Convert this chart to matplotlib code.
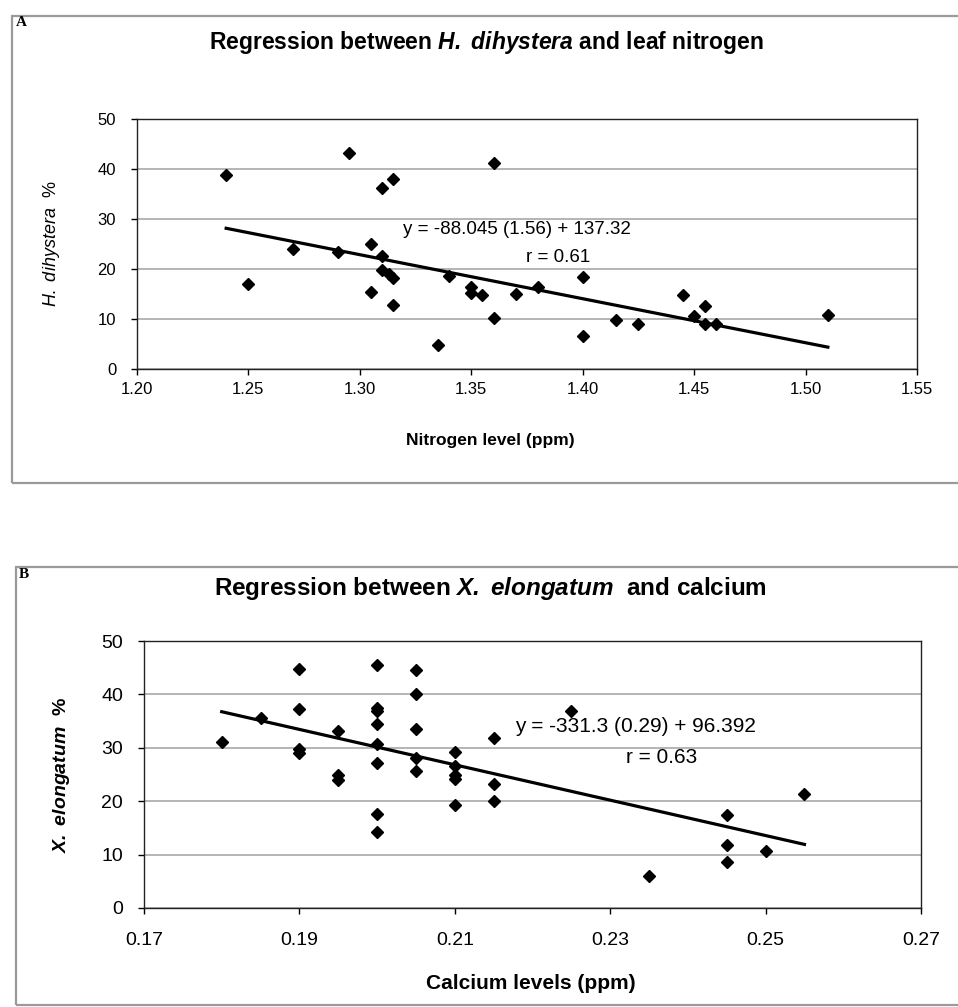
import matplotlib
matplotlib.use("Agg")
import matplotlib.pyplot as plt
from matplotlib.patches import Rectangle
import numpy as np

# ---- panel A : H. dihystera vs leaf nitrogen ----
nitrogen = [1.24, 1.25, 1.27, 1.29, 1.295, 1.305, 1.305, 1.31, 1.31, 1.31, 1.313,
            1.315, 1.315, 1.315, 1.335, 1.34, 1.35, 1.35, 1.355, 1.36, 1.36, 1.37,
            1.38, 1.40, 1.40, 1.415, 1.425, 1.445, 1.45, 1.455, 1.455, 1.46, 1.51]
dihystera = [38.8, 17.1, 24.0, 23.4, 43.2, 25.0, 15.5, 36.3, 22.7, 19.8, 19.0,
             38.0, 18.3, 12.8, 4.8, 18.7, 16.5, 15.2, 14.8, 41.2, 10.3, 15.1,
             16.5, 18.5, 6.6, 9.8, 9.1, 14.9, 10.6, 12.6, 9.1, 9.1, 10.9]
fit_a = (-88.045, 137.32)
xticks_a = [1.20, 1.25, 1.30, 1.35, 1.40, 1.45, 1.50, 1.55]

# ---- panel B : X. elongatum vs calcium ----
calcium = [0.18, 0.185, 0.19, 0.19, 0.19, 0.19, 0.195, 0.195, 0.195,
           0.20, 0.20, 0.20, 0.20, 0.20, 0.20, 0.20, 0.20,
           0.205, 0.205, 0.205, 0.205, 0.205, 0.21, 0.21, 0.21, 0.21, 0.21,
           0.215, 0.215, 0.215, 0.225, 0.235, 0.245, 0.245, 0.245, 0.25, 0.255]
elongatum = [31.0, 35.5, 44.7, 37.2, 29.8, 29.0, 33.1, 24.9, 23.9,
             45.5, 37.4, 36.8, 34.4, 30.8, 27.1, 17.6, 14.3,
             44.6, 40.1, 33.6, 28.0, 25.6, 29.2, 26.6, 25.0, 24.1, 19.2,
             31.9, 23.3, 20.0, 36.9, 6.0, 17.4, 11.8, 8.7, 10.7, 21.3]
fit_b = (-331.3, 96.392)
xticks_b = [0.17, 0.19, 0.21, 0.23, 0.25, 0.27]

yticks = [0, 10, 20, 30, 40, 50]

plt.rcParams["font.family"] = ["Liberation Sans", "DejaVu Sans"]
plt.rcParams["mathtext.fontset"] = "custom"
plt.rcParams["mathtext.rm"] = "Liberation Sans"
plt.rcParams["mathtext.it"] = "Liberation Sans:italic"
plt.rcParams["mathtext.bf"] = "Liberation Sans:bold"
plt.rcParams["mathtext.bfit"] = "Liberation Sans:italic:bold"

W, H = 958, 1007
fig = plt.figure(figsize=(W / 100, H / 100), dpi=100)


def fx(x):
    return x / W


def fy(y):
    return 1 - y / H


def panel(rect_px, xs, ys, fit, xticks, tick_fs, xpad):
    l, t, r, b = rect_px
    ax = fig.add_axes([fx(l), fy(b), fx(r - l), (b - t) / H])
    ax.set_xlim(xticks[0], xticks[-1])
    ax.set_ylim(0, 50)
    ax.set_xticks(xticks)
    ax.set_xticklabels([f"{v:.2f}" for v in xticks])
    ax.set_yticks(yticks)
    ax.yaxis.grid(True, color="#a0a0a0", lw=1.1)
    ax.set_axisbelow(True)
    for s in ax.spines.values():
        s.set_color("#222222")
        s.set_linewidth(1.0)
    ax.tick_params(direction="out", length=4.5, width=1, labelsize=tick_fs)
    ax.tick_params(axis="y", pad=10.5)
    ax.tick_params(axis="x", pad=xpad)
    ax.plot(xs, ys, ls="none", marker="D", ms=6.5, color="black", zorder=3)
    lx = np.array([min(xs), max(xs)])
    ax.plot(lx, fit[0] * lx + fit[1], color="black", lw=2.3, zorder=4)
    return ax


ax_a = panel((137, 119, 917, 369), nitrogen, dihystera, fit_a, xticks_a, 12, 5)
ax_b = panel((144, 641, 921, 908), calcium, elongatum, fit_b, xticks_b, 14, 13)

# panel frames (the chart borders of the original)
for top, bot, left in [(16, 483, 12), (567, 1005, 16)]:
    fig.add_artist(Rectangle((fx(left), fy(bot)), fx(W + 20 - left), (bot - top) / H,
                             transform=fig.transFigure, fill=False,
                             edgecolor="#9a9a9a", lw=1.6))

# panel letters
fig.text(fx(16), fy(22), "A", family=["Liberation Serif"], weight="bold", fontsize=11,
         ha="left", va="center")
fig.text(fx(19), fy(575), "B", family=["Liberation Serif"], weight="bold", fontsize=11,
         ha="left", va="center")

# titles
fig.text(fx(486), fy(42), r"Regression between $\mathbfit{H.\ dihystera}$ and leaf nitrogen",
         fontsize=16.5, weight="bold", ha="center", va="center")
fig.text(fx(490), fy(588), r"Regression between $\mathbfit{X.\ elongatum}$  and calcium",
         fontsize=17.5, weight="bold", ha="center", va="center")

# axis labels
ax_a.set_xlabel("Nitrogen level (ppm)", fontsize=12.5, weight="bold")
ax_a.xaxis.set_label_coords((490 - 137) / 780, (369 - 433) / 250)
ax_a.set_ylabel(r"$\mathit{H.\ dihystera}$  %", fontsize=13)
ax_a.yaxis.set_label_coords((62 - 137) / 780, 0.5)
ax_b.set_xlabel("Calcium levels (ppm)", fontsize=15, weight="bold")
ax_b.xaxis.set_label_coords((531 - 144) / 777, (908 - 974) / 267)
ax_b.set_ylabel(r"$\mathbfit{X.\ elongatum}$  %", fontsize=14, weight="bold")
ax_b.yaxis.set_label_coords((72 - 144) / 777, 0.5)

# regression annotations
ax_a.text(1.3195, 28.0, "y = -88.045 (1.56) + 137.32", fontsize=13.5, ha="left", va="center")
ax_a.text(1.389, 22.4, "r = 0.61", fontsize=13.5, ha="center", va="center")
ax_b.text(0.2178, 33.9, "y = -331.3 (0.29) + 96.392", fontsize=15, ha="left", va="center")
ax_b.text(0.2366, 28.1, "r = 0.63", fontsize=15, ha="center", va="center")

fig.savefig("out.png", dpi=100, facecolor="white")
